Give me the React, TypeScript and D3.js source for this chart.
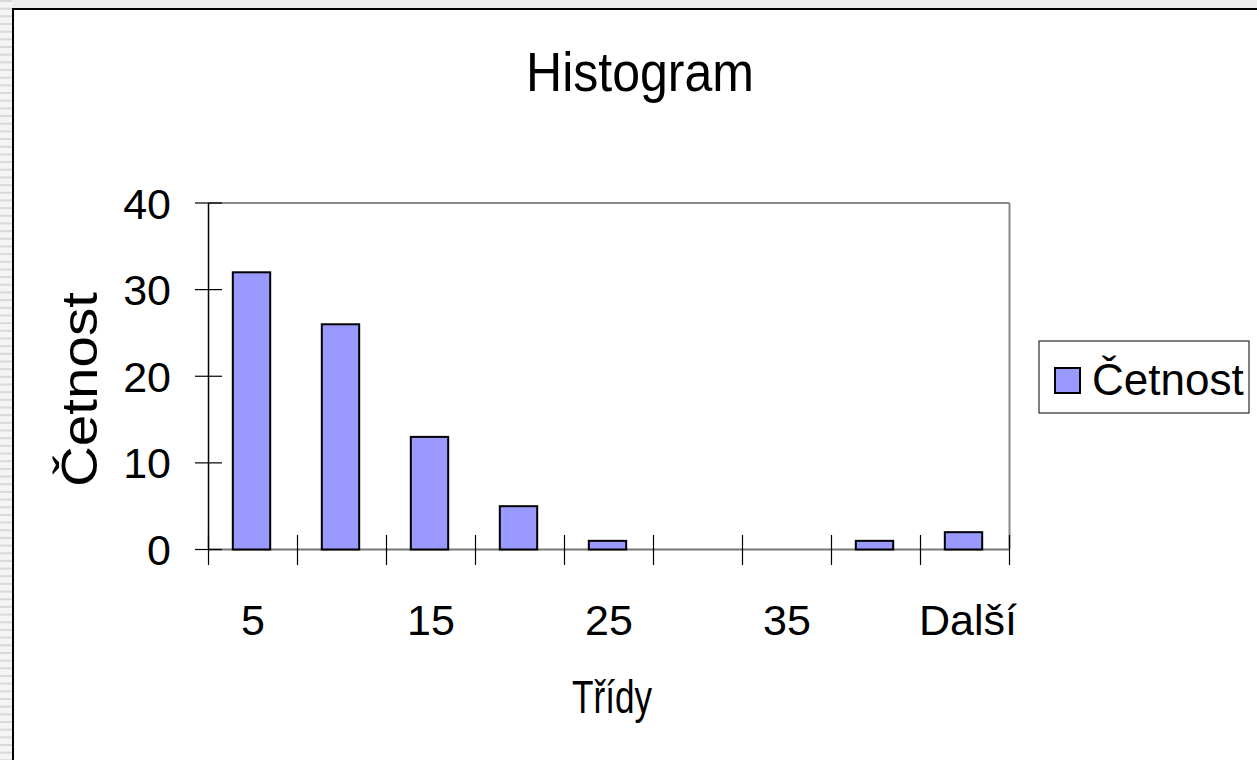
import React from "react";
import * as d3 from "d3";

const categories = ["5", "10", "15", "20", "25", "30", "35", "40", "Další"];
const counts = [32, 26, 13, 5, 1, 0, 0, 1, 2];
const yTicks = [0, 10, 20, 30, 40];
const shownLabels = ["5", "15", "25", "35", "Další"];
const title = "Histogram";
const xTitle = "Třídy";
const yTitle = "Četnost";
const seriesName = "Četnost";

const W = 1257;
const H = 760;
const FONT = "'Liberation Sans', Arial, Helvetica, sans-serif";

export default function App() {
  const left = 208.5, right = 1009.5, top = 203, bottom = 549.5;
  const x = d3.scaleBand<string>().domain(categories).range([left, right]).padding(0);
  const y = d3.scaleLinear().domain([0, 40]).range([bottom, top]);
  const bw = x.bandwidth() * 0.42;
  const stripes = d3.range(0, H, 7.67);

  return (
    <svg
      width={W}
      height={H}
      style={{ position: "absolute", left: 0, top: 0, background: "#fff" }}
      fontFamily={FONT}
    >
      {/* surrounding sheet */}
      <rect x={0} y={0} width={W} height={9} fill="#ececec" />
      <rect x={0} y={0} width={13} height={H} fill="#f4f4f4" />
      {stripes.map((s, i) => (
        <rect key={i} x={0} y={s} width={12} height={2} fill="#d9d9d9" />
      ))}
      <rect x={13} y={9} width={W} height={H} fill="#fff" stroke="#000" strokeWidth={2} />

      {/* title */}
      <text
        x={526}
        y={91}
        fontSize={56}
        fill="#000"
        textLength={228}
        lengthAdjust="spacingAndGlyphs"
      >
        {title}
      </text>

      {/* plot border */}
      <line x1={left} x2={right} y1={top} y2={top} stroke="#888" strokeWidth={2} />
      <line x1={right} x2={right} y1={top} y2={bottom} stroke="#888" strokeWidth={2} />
      <line x1={left} x2={right} y1={bottom} y2={bottom} stroke="#777" strokeWidth={2} />

      {/* bars */}
      {categories.map((c, i) => {
        const cx = (x(c) as number) + x.bandwidth() / 2 - 1.5;
        const v = counts[i];
        if (v <= 0) return null;
        return (
          <rect
            key={c}
            x={cx - bw / 2}
            y={y(v)}
            width={bw}
            height={y(0) - y(v)}
            fill="#9999FF"
            stroke="#000"
            strokeWidth={2}
          />
        );
      })}

      {/* y axis */}
      <line x1={left} x2={left} y1={top} y2={bottom + 1} stroke="#000" strokeWidth={1.5} />
      {yTicks.map((t) => (
        <g key={t}>
          <line x1={195} x2={222} y1={y(t)} y2={y(t)} stroke="#000" strokeWidth={1.2} />
          <text x={171} y={y(t) + 15.5} textAnchor="end" fontSize={43} fill="#000">
            {t}
          </text>
        </g>
      ))}

      {/* x axis ticks */}
      {d3.range(categories.length + 1).map((i) => {
        const xx = left + i * x.step();
        return <line key={i} x1={xx} x2={xx} y1={535} y2={565} stroke="#000" strokeWidth={1.2} />;
      })}
      {categories.map((c) =>
        shownLabels.includes(c) ? (
          <text
            key={c}
            x={(x(c) as number) + x.bandwidth() / 2 + (c === "Další" ? 3 : 0)}
            y={635}
            textAnchor="middle"
            fontSize={43}
            fill="#000"
          >
            {c}
          </text>
        ) : null
      )}

      {/* axis titles */}
      <text
        x={572}
        y={713}
        fontSize={46}
        fill="#000"
        textLength={80}
        lengthAdjust="spacingAndGlyphs"
      >
        {xTitle}
      </text>
      <text
        transform={`translate(97,487) rotate(-90)`}
        fontSize={50}
        fill="#000"
        textLength={195}
        lengthAdjust="spacingAndGlyphs"
      >
        {yTitle}
      </text>

      {/* legend */}
      <rect x={1039} y={341} width={210} height={72} fill="#fff" stroke="#000" strokeWidth={1} />
      <rect x={1055} y={368} width={25} height={25} fill="#9999FF" stroke="#000" strokeWidth={2} />
      <text x={1092} y={395} fontSize={44} fill="#000">
        {seriesName}
      </text>
    </svg>
  );
}
